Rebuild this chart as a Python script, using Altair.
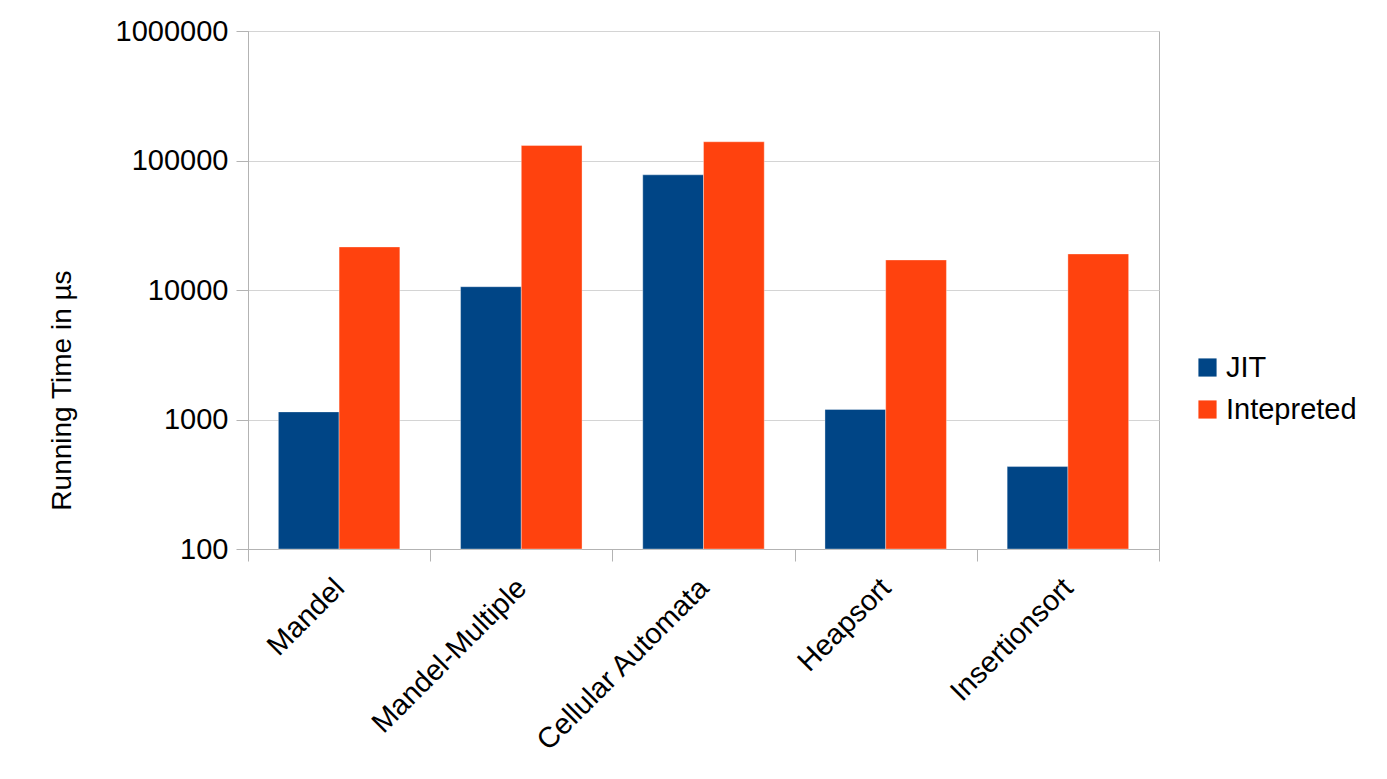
import altair as alt
import pandas as pd

categories = ["Mandel", "Mandel-Multiple", "Cellular Automata", "Heapsort", "Insertionsort"]
series = ["JIT", "Intepreted"]
jit = [1145, 10600, 77500, 1195, 433]
interp = [21500, 130600, 139500, 17060, 18980]
y_ticks = [100, 1000, 10000, 100000, 1000000]
colors = ["#004586", "#ff420e"]

rows = []
for c, j, i in zip(categories, jit, interp):
    rows.append({"cat": c, "series": "JIT", "value": j})
    rows.append({"cat": c, "series": "Intepreted", "value": i})
df = pd.DataFrame(rows)

FONT = "Liberation Sans"

chart = alt.Chart(df).mark_bar(stroke="#ffffff", strokeOpacity=0.35, strokeWidth=1).encode(
    x=alt.X("cat:N", sort=categories,
            scale=alt.Scale(paddingInner=0, paddingOuter=0),
            axis=alt.Axis(title=None, labelAngle=-45, labelAlign="right", labelBaseline="middle",
                          tickBand="extent", labelFontSize=29, labelColor="#000000", labelFont=FONT,
                          labelLimit=0,
                          ticks=True, tickSize=12, tickColor="#b3b3b3", domainColor="#b3b3b3",
                          labelPadding=22, grid=False)),
    xOffset=alt.XOffset("series:N", sort=series, scale=alt.Scale(paddingInner=0, paddingOuter=0.5)),
    y=alt.Y("value:Q",
            scale=alt.Scale(type="log", domain=[100, 1000000], nice=False),
            axis=alt.Axis(values=y_ticks, format="d", title="Running Time in µs",
                          titleFontSize=28, titleFontWeight="normal", titleFont=FONT, titleColor="#000000",
                          titleAngle=-90, titleX=-186, titleY=359, titleAlign="center", titleBaseline="middle",
                          labelFontSize=29, labelFont=FONT, labelColor="#000000", labelPadding=8,
                          tickSize=12, tickColor="#b3b3b3", domainColor="#b3b3b3",
                          grid=True, gridColor="#d4d4d4")),
    y2=alt.datum(100),
    color=alt.Color("series:N", sort=series,
                    scale=alt.Scale(domain=series, range=colors),
                    legend=alt.Legend(title=None, orient="none", legendX=945, legendY=322,
                                      symbolType="square", symbolSize=330, symbolStrokeWidth=0,
                                      labelFontSize=29, labelFont=FONT, labelColor="#000000",
                                      rowPadding=12, labelOffset=4)),
).properties(
    width=911, height=518,
    autosize=alt.AutoSizeParams(type="none"),
    padding={"left": 240, "top": 23, "right": 220, "bottom": 222},
).configure_view(stroke="#b3b3b3")

chart.save("out.html", embed_options={"renderer": "svg", "actions": False})
